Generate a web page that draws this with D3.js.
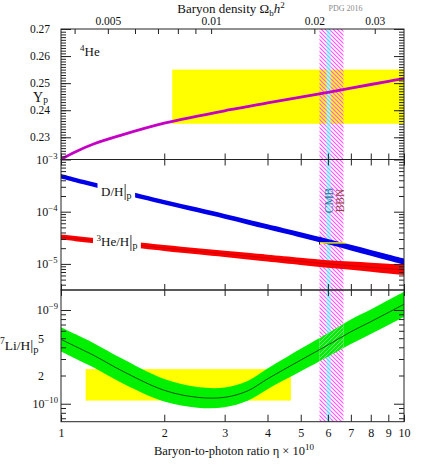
<!DOCTYPE html>
<html><head><meta charset="utf-8">
<script src="https://cdn.jsdelivr.net/npm/d3@7"></script>
<style>body{margin:0;background:#fff}svg{display:block}text{font-family:"Liberation Serif","DejaVu Serif",serif;fill:#111}</style>
</head><body><svg id="c" width="422" height="464"></svg>
<script>
// ---------- data ----------
const eta      = [1,1.1,1.25,1.5,2,2.5,3,3.5,4,5,6,7,8,9,10];
const heYp     = [0.2219,0.2246,0.2276,0.2308,0.2352,0.2378,0.2398,0.2413,0.2427,0.2448,0.2466,0.2482,0.2495,0.2507,0.2517];
const dH       = [4.78e-4,4.06e-4,3.28e-4,2.41e-4,1.52e-4,1.08e-4,8.15e-5,6.37e-5,5.15e-5,3.61e-5,2.67e-5,2.05e-5,1.63e-5,1.33e-5,1.11e-5];
const dHWidth  = [0.042,0.042,0.042,0.043,0.044,0.045,0.046,0.047,0.048,0.05,0.052,0.054,0.055,0.057,0.058];
const he3H     = [3.26e-5,3.05e-5,2.79e-5,2.45e-5,2.02e-5,1.75e-5,1.56e-5,1.41e-5,1.29e-5,1.12e-5,1.00e-5,9.27e-6,8.63e-6,8.11e-6,7.67e-6];
const he3Width = [0.048,0.049,0.05,0.052,0.056,0.058,0.06,0.063,0.066,0.07,0.072,0.08,0.088,0.095,0.102];
const li7H     = [4.86e-10,4.10e-10,3.26e-10,2.26e-10,1.39e-10,1.17e-10,1.17e-10,1.37e-10,1.84e-10,2.92e-10,4.23e-10,5.86e-10,7.50e-10,9.40e-10,1.15e-9];
const li7Width = [0.13,0.13,0.13,0.13,0.12,0.11,0.105,0.105,0.11,0.12,0.125,0.13,0.13,0.133,0.135];

const heObsEta = [2.11,10],   heObsYp = [0.235,0.255];
const dObsEta  = [5.67,6.75], dObsDH  = [2.45e-5,2.6e-5];
const liObsEta = [1.18,4.68], liObsLi = [1.08e-10,2.34e-10];
const bbnEta   = [5.67,6.66];
const cmbEta   = [5.95,6.11];

const etaTicks   = [1,2,3,4,5,6,7,8,9,10];
const omegaTicks = [0.004,0.005,0.006,0.007,0.008,0.009,0.01,0.02,0.03];
const omegaLabels= [0.005,0.01,0.02,0.03];
const ETA_PER_OMEGA = 273.9;
const ypTicks  = [0.23,0.24,0.25,0.26,0.27];
const midDecades = [1e-5,1e-4,1e-3];
const midLabels  = ["−5","−4","−3"];
const botDecades = [1e-10,1e-9];
const botLabels  = ["−10","−9"];
const botMantissa= [2e-10,5e-10];

// ---------- layout ----------
const L=61,R=404,T=29,B1=159.5,B2=290,B3=421.7;
const svg=d3.select("#c");
const x  = d3.scaleLog().domain([1,10]).range([L,R]);
const xo = d3.scaleLog().domain([1/ETA_PER_OMEGA,10/ETA_PER_OMEGA]).range([L,R]);
const yTop=d3.scaleLinear().domain([0.2218,0.27]).range([B1,T]);
const yMid=d3.scaleLog().domain([Math.pow(10,-5.5),1e-3]).range([B2,B1]);
const yBot=d3.scaleLog().domain([6.43e-11,1.634e-9]).range([B3,B2]);

const defs=svg.append("defs");
function hatch(id,color,w,dir){
  const p=defs.append("pattern").attr("id",id).attr("patternUnits","userSpaceOnUse").attr("width",4).attr("height",4);
  p.append("path").attr("d",dir>0?"M-1,-1L5,5M3,-1L5,1M-1,3L1,5":"M-1,5L5,-1M-1,1L1,-1M3,5L5,3")
   .attr("stroke",color).attr("stroke-width",w).attr("fill","none");
}
hatch("hM","#ff55ff",1.2,1);
hatch("hC","#55d8ff",1.2,1);
hatch("hG","#00ee00",2.4,-1);
function clip(id,y0,y1){defs.append("clipPath").attr("id",id).append("rect").attr("x",L).attr("y",y0).attr("width",R-L).attr("height",y1-y0);}
clip("cT",T,B1);clip("cM",B1,B2);clip("cB",B2,B3);
defs.append("clipPath").attr("id","cBand").append("rect").attr("x",x(bbnEta[0])).attr("y",B2).attr("width",x(bbnEta[1])-x(bbnEta[0])).attr("height",B3-B2);
const mk=defs.append("mask").attr("id","mOut").attr("maskUnits","userSpaceOnUse").attr("x",0).attr("y",0).attr("width",422).attr("height",464);
mk.append("rect").attr("width",422).attr("height",464).attr("fill","#fff");
mk.append("rect").attr("x",x(bbnEta[0])).attr("y",0).attr("width",x(bbnEta[1])-x(bbnEta[0])).attr("height",464).attr("fill","#000");

const rows=eta.map((e,i)=>({e,yp:heYp[i],d:dH[i],dw:dHWidth[i],h3:he3H[i],hw:he3Width[i],li:li7H[i],lw:li7Width[i]}));

// yellow observation boxes
svg.append("rect").attr("clip-path","url(#cT)").attr("fill","#ffff00")
  .attr("x",x(heObsEta[0])).attr("width",x(heObsEta[1])-x(heObsEta[0]))
  .attr("y",yTop(heObsYp[1])).attr("height",yTop(heObsYp[0])-yTop(heObsYp[1]));
svg.append("rect").attr("clip-path","url(#cB)").attr("fill","#ffff00")
  .attr("x",x(liObsEta[0])).attr("width",x(liObsEta[1])-x(liObsEta[0]))
  .attr("y",yBot(liObsLi[1])).attr("height",yBot(liObsLi[0])-yBot(liObsLi[1]));

// vertical bands
svg.append("rect").attr("x",x(bbnEta[0])).attr("width",x(bbnEta[1])-x(bbnEta[0])).attr("y",T).attr("height",B3-T).attr("fill","url(#hM)");
svg.append("rect").attr("x",x(cmbEta[0])).attr("width",x(cmbEta[1])-x(cmbEta[0])).attr("y",T).attr("height",B3-T).attr("fill","#c4f0ff").attr("opacity",0.8);
svg.append("rect").attr("x",x(cmbEta[0])).attr("width",x(cmbEta[1])-x(cmbEta[0])).attr("y",T).attr("height",B3-T).attr("fill","url(#hC)");

const curve=d3.curveCatmullRom.alpha(0.5);
// He-4
svg.append("path").attr("clip-path","url(#cT)").datum(rows)
  .attr("d",d3.line().x(d=>x(d.e)).y(d=>yTop(d.yp)).curve(curve))
  .attr("fill","none").attr("stroke","#c400c4").attr("stroke-width",2.8);

// D/H and He3/H bands
const gM=svg.append("g").attr("clip-path","url(#cM)");
gM.append("path").datum(rows).attr("fill","#0000e8")
  .attr("d",d3.area().x(d=>x(d.e)).y0(d=>yMid(d.d*Math.pow(10,-d.dw))).y1(d=>yMid(d.d*Math.pow(10,d.dw))).curve(curve));
gM.append("path").datum(rows).attr("fill","#ff0000")
  .attr("d",d3.area().x(d=>x(d.e)).y0(d=>yMid(d.h3*Math.pow(10,-d.hw))).y1(d=>yMid(d.h3*Math.pow(10,d.hw))).curve(curve));
gM.append("path").datum(rows).attr("fill","none").attr("stroke","#a00000").attr("stroke-width",0.6)
  .attr("d",d3.line().x(d=>x(d.e)).y(d=>yMid(d.h3)).curve(curve));

// curve labels with white gaps
function curveLabel(xp,yp,sup,main,sub){
  const g=svg.append("g");
  const bg=g.append("rect").attr("fill","#fff");
  const t=g.append("text").attr("x",xp).attr("y",yp).attr("font-size",13);
  if(sup){t.append("tspan").attr("font-size",9).attr("dy",-5).text(sup);t.append("tspan").attr("dy",5).text(main);}
  else t.append("tspan").text(main);
  t.append("tspan").attr("font-size",16).attr("dy",0.5).text("|");
  t.append("tspan").attr("font-size",10).attr("dy",2.5).text(sub);
  const b=t.node().getBBox();
  bg.attr("x",b.x-3.5).attr("y",b.y).attr("width",b.width+7).attr("height",b.height);
}
curveLabel(101,195.5,null,"D/H","p");
curveLabel(96.5,246,"3","He/H","p");

// observed D/H
svg.append("rect").attr("fill","#ffff00")
  .attr("x",x(dObsEta[0])).attr("width",x(dObsEta[1])-x(dObsEta[0]))
  .attr("y",yMid(dObsDH[1])).attr("height",yMid(dObsDH[0])-yMid(dObsDH[1]));
svg.append("line").attr("x1",x(dObsEta[0])).attr("x2",x(dObsEta[0])).attr("y1",yMid(dObsDH[1])-0.5).attr("y2",yMid(dObsDH[0])+1)
  .attr("stroke","#222").attr("stroke-width",1);

// Li-7 band
const gB=svg.append("g").attr("clip-path","url(#cB)");
const liArea=d3.area().x(d=>x(d.e)).y0(d=>yBot(d.li*Math.pow(10,-d.lw))).y1(d=>yBot(d.li*Math.pow(10,d.lw))).curve(curve);
gB.append("path").datum(rows).attr("fill","#00f000").attr("mask","url(#mOut)").attr("d",liArea);
gB.append("g").attr("clip-path","url(#cBand)").append("path").datum(rows).attr("fill","url(#hG)").attr("d",liArea);
gB.append("path").datum(rows).attr("fill","none").attr("stroke","#111").attr("stroke-width",0.7)
  .attr("d",d3.line().x(d=>x(d.e)).y(d=>yBot(d.li)).curve(curve));

// ---------- axes ----------
function ax(gen,tx,ty){
  const g=svg.append("g").attr("transform",`translate(${tx},${ty})`).call(gen);
  g.select(".domain").remove();
  g.attr("font-family","Liberation Serif, serif").attr("color","#222");
  g.selectAll("line").attr("stroke-width",1);
  return g;
}
const none=()=>"";
// top panel y
const ypMinor=d3.range(222,271).map(v=>v/1000);
ax(d3.axisLeft(yTop).tickValues(ypMinor).tickSize(-5).tickFormat(none),L,0);
ax(d3.axisRight(yTop).tickValues(ypMinor).tickSize(-5).tickFormat(none),R,0);
ax(d3.axisLeft(yTop).tickValues(ypTicks).tickSize(-10).tickPadding(11).tickFormat(d3.format(".2f")),L,0).attr("font-size",11.5);
ax(d3.axisRight(yTop).tickValues(ypTicks).tickSize(-10).tickFormat(none),R,0);
// middle panel y
const midMinor=[];
[1e-6,1e-5,1e-4].forEach(dec=>{for(let k=2;k<=9;k++){const v=k*dec; if(v>=yMid.domain()[0]&&v<1e-3) midMinor.push(v);}});
ax(d3.axisLeft(yMid).tickValues(midMinor).tickSize(-5).tickFormat(none),L,0);
ax(d3.axisRight(yMid).tickValues(midMinor).tickSize(-5).tickFormat(none),R,0);
ax(d3.axisLeft(yMid).tickValues(midDecades).tickSize(-10).tickFormat(none),L,0);
ax(d3.axisRight(yMid).tickValues(midDecades).tickSize(-10).tickFormat(none),R,0);
// bottom panel y
const botMinor=[];
[1e-11,1e-10].forEach(dec=>{for(let k=2;k<=9;k++){const v=k*dec; if(v>=yBot.domain()[0]&&v<=yBot.domain()[1]) botMinor.push(v);}});
ax(d3.axisLeft(yBot).tickValues(botMinor).tickSize(-5).tickFormat(none),L,0);
ax(d3.axisRight(yBot).tickValues(botMinor).tickSize(-5).tickFormat(none),R,0);
ax(d3.axisLeft(yBot).tickValues(botDecades).tickSize(-10).tickFormat(none),L,0);
ax(d3.axisRight(yBot).tickValues(botDecades).tickSize(-10).tickFormat(none),R,0);
// eta ticks on panel borders
ax(d3.axisBottom(x).tickValues(etaTicks).tickSize(-6).tickFormat(none),0,B1);
ax(d3.axisTop(x).tickValues(etaTicks).tickSize(-6).tickFormat(none),0,B1);
ax(d3.axisBottom(x).tickValues(etaTicks).tickSize(-6).tickFormat(none),0,B2);
ax(d3.axisTop(x).tickValues(etaTicks).tickSize(-6).tickFormat(none),0,B2);
ax(d3.axisBottom(x).tickValues(etaTicks).tickSize(-7).tickPadding(7).tickFormat(d3.format("d")),0,B3).attr("font-size",12);
// omega ticks on top
ax(d3.axisTop(xo).tickValues(omegaTicks).tickSize(-5).tickPadding(4)
  .tickFormat(d=>omegaLabels.some(v=>Math.abs(v-d)<1e-9)?String(d):""),0,T).attr("font-size",11.5);

// frames
[[T,B1],[B1,B2],[B2,B3]].forEach(([a,b])=>svg.append("rect").attr("x",L).attr("y",a).attr("width",R-L).attr("height",b-a)
  .attr("fill","none").attr("stroke","#222").attr("stroke-width",1));

// log labels
function supLabel(xp,yp,base,exp,size){
  const t=svg.append("text").attr("x",xp).attr("y",yp+size*0.36).attr("text-anchor","end").attr("font-size",size);
  t.append("tspan").text(base);
  t.append("tspan").attr("font-size",size*0.72).attr("dy",-size*0.42).text(exp);
}
midDecades.forEach((v,i)=>supLabel(57.5,yMid(v),"10",midLabels[i],12));
botDecades.forEach((v,i)=>supLabel(58,yBot(v),"10",botLabels[i],12));
botMantissa.forEach(v=>svg.append("text").attr("x",44).attr("y",yBot(v)+4.3).attr("text-anchor","end").attr("font-size",12).text(String(v*1e10)));

// titles
let t=svg.append("text").attr("x",33).attr("y",102).attr("font-size",14);
t.append("tspan").text("Y");t.append("tspan").attr("font-size",9.5).attr("dy",1).text("p");
t=svg.append("text").attr("x",80).attr("y",56).attr("font-size",13);
t.append("tspan").attr("font-size",9).attr("dy",-5).text("4");t.append("tspan").attr("dy",5).text("He");
t=svg.append("text").attr("x",0).attr("y",349.5).attr("font-size",13.5);
t.append("tspan").attr("font-size",9.5).attr("dy",-5.5).text("7");
t.append("tspan").attr("dy",5.5).text("Li/H");
t.append("tspan").attr("font-size",15).attr("dy",0.5).text("|");
t.append("tspan").attr("font-size",10.5).attr("dy",2.5).text("p");

t=svg.append("text").attr("x",234).attr("y",455).attr("text-anchor","middle").attr("font-size",12.5);
t.append("tspan").text("Baryon-to-photon ratio η × 10");
t.append("tspan").attr("font-size",9).attr("dy",-5).text("10");

t=svg.append("text").attr("x",231).attr("y",12.5).attr("text-anchor","middle").attr("font-size",13);
t.append("tspan").text("Baryon density Ω");
t.append("tspan").attr("font-size",9).attr("dy",3).text("b");
t.append("tspan").attr("dy",-3).attr("font-style","italic").text("h");
t.append("tspan").attr("font-size",9).attr("dy",-5).text("2");

svg.append("text").attr("x",345.5).attr("y",10.5).attr("text-anchor","middle").attr("font-size",8).style("fill","#8a8a8a").text("PDG 2016");

svg.append("text").attr("transform",`translate(${x(cmbEta[1])+2.5},200.5) rotate(-90)`).attr("text-anchor","middle")
  .attr("font-size",11.5).style("fill","#2f7196").text("CMB");
svg.append("text").attr("transform",`translate(${x(bbnEta[1])+1},200.5) rotate(-90)`).attr("text-anchor","middle")
  .attr("font-size",11.5).style("fill","#8b4a3c").text("BBN");
</script></body></html>
